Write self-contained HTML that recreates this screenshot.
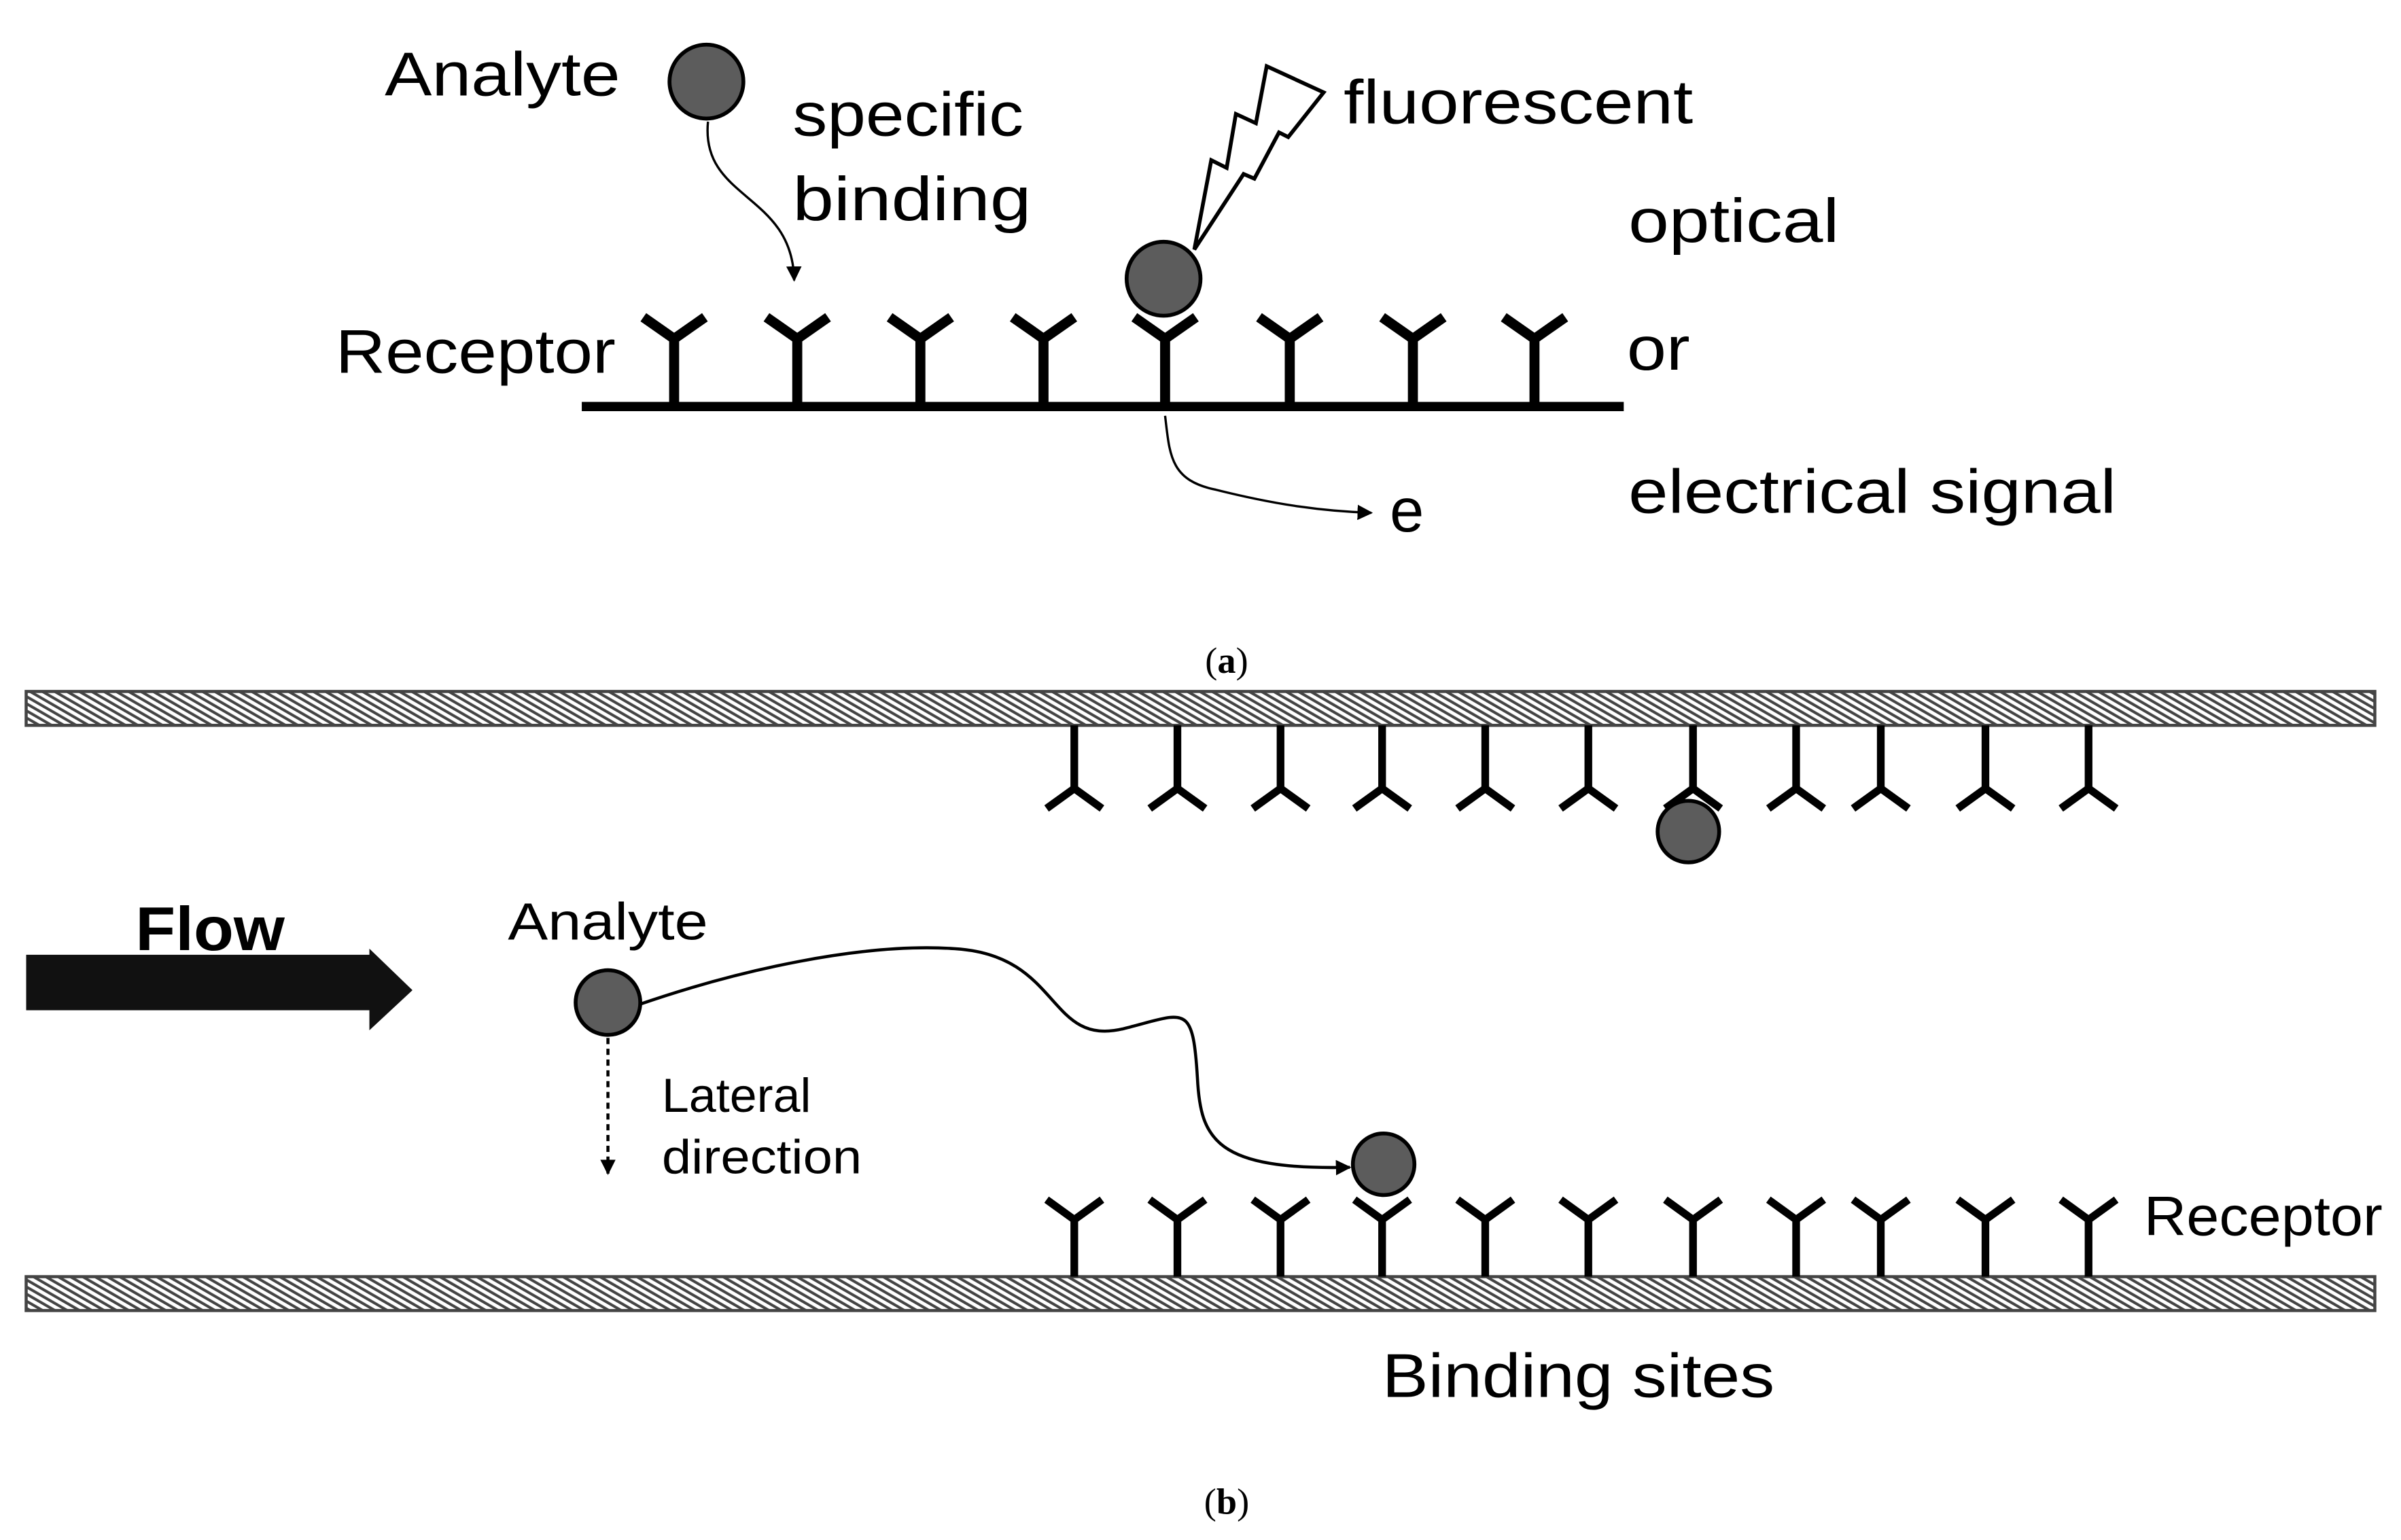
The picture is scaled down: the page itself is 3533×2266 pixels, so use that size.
<!DOCTYPE html>
<html><head><style>html,body{margin:0;padding:0;background:#fff;}svg{display:block}</style></head>
<body>
<svg width="3533" height="2266" viewBox="0 0 1560 1000" preserveAspectRatio="none" xmlns="http://www.w3.org/2000/svg" font-family="'Liberation Sans', sans-serif">
<defs>
<pattern id="h" width="4" height="4" patternUnits="userSpaceOnUse" patternTransform="rotate(-60)">
<rect width="4" height="4" fill="#fff"/><rect width="1.8" height="4" fill="#444"/>
</pattern>
<marker id="ar" markerWidth="10" markerHeight="10" refX="9" refY="5" orient="auto" markerUnits="userSpaceOnUse"><path d="M0,0 L10,5 L0,10 Z" fill="#000"/></marker>
</defs>
<rect width="1560" height="1000" fill="#fff"/>
<!-- panel a -->
<g fill="#000" font-size="40" lengthAdjust="spacingAndGlyphs">
<text x="250" y="62" textLength="153" lengthAdjust="spacingAndGlyphs">Analyte</text>
<text x="515" y="88" textLength="150" lengthAdjust="spacingAndGlyphs">specific</text>
<text x="515" y="143" textLength="155" lengthAdjust="spacingAndGlyphs">binding</text>
<text x="873" y="80" textLength="227" lengthAdjust="spacingAndGlyphs">fluorescent</text>
<text x="1058" y="157" textLength="137" lengthAdjust="spacingAndGlyphs">optical</text>
<text x="218" y="242" textLength="182" lengthAdjust="spacingAndGlyphs">Receptor</text>
<text x="1057" y="240" textLength="41" lengthAdjust="spacingAndGlyphs">or</text>
<text x="1058" y="333" textLength="317" lengthAdjust="spacingAndGlyphs">electrical signal</text>
<text x="903" y="345">e</text>
</g>
<line x1="378" y1="264" x2="1055" y2="264" stroke="#000" stroke-width="6"/>
<g stroke="#000" stroke-width="6.5" fill="none">
<path d="M438,264V220M418,206L438,220L458,206"/>
<path d="M518,264V220M498,206L518,220L538,206"/>
<path d="M598,264V220M578,206L598,220L618,206"/>
<path d="M678,264V220M658,206L678,220L698,206"/>
<path d="M757,264V220M737,206L757,220L777,206"/>
<path d="M838,264V220M818,206L838,220L858,206"/>
<path d="M918,264V220M898,206L918,220L938,206"/>
<path d="M997,264V220M977,206L997,220L1017,206"/>
</g>
<circle cx="459" cy="53" r="24" fill="#5c5c5c" stroke="#000" stroke-width="2.5"/>
<path d="M460,79 C455,130 515,125 516,182" stroke="#000" stroke-width="1.5" fill="none" marker-end="url(#ar)"/>
<circle cx="756" cy="181" r="24" fill="#5c5c5c" stroke="#000" stroke-width="2.5"/>
<polygon points="776,162 787,104 797,109 803,74 816,80 823,43 860,60 837,89 831,86 815,116 808,113" fill="#fff" stroke="#000" stroke-width="2.5"/>
<path d="M757,270 C760,295 760,312 790,318 C830,328 860,332 891,333" stroke="#000" stroke-width="1.5" fill="none" marker-end="url(#ar)"/>
<text x="797" y="437" font-family="'Liberation Serif', serif" font-size="24" text-anchor="middle">(<tspan font-weight="bold">a</tspan>)</text>
<!-- panel b -->
<rect x="17" y="449" width="1526" height="22" fill="url(#h)" stroke="#444" stroke-width="2"/>
<rect x="17" y="829" width="1526" height="22" fill="url(#h)" stroke="#444" stroke-width="2"/>
<g stroke="#000" stroke-width="5" fill="none">
<path d="M698,471V512M680,525L698,512L716,525"/>
<path d="M765,471V512M747,525L765,512L783,525"/>
<path d="M832,471V512M814,525L832,512L850,525"/>
<path d="M898,471V512M880,525L898,512L916,525"/>
<path d="M965,471V512M947,525L965,512L983,525"/>
<path d="M1032,471V512M1014,525L1032,512L1050,525"/>
<path d="M1100,471V512M1082,525L1100,512L1118,525"/>
<path d="M1167,471V512M1149,525L1167,512L1185,525"/>
<path d="M1222,471V512M1204,525L1222,512L1240,525"/>
<path d="M1290,471V512M1272,525L1290,512L1308,525"/>
<path d="M1357,471V512M1339,525L1357,512L1375,525"/>
<path d="M698,829V792M680,779L698,792L716,779"/>
<path d="M765,829V792M747,779L765,792L783,779"/>
<path d="M832,829V792M814,779L832,792L850,779"/>
<path d="M898,829V792M880,779L898,792L916,779"/>
<path d="M965,829V792M947,779L965,792L983,779"/>
<path d="M1032,829V792M1014,779L1032,792L1050,779"/>
<path d="M1100,829V792M1082,779L1100,792L1118,779"/>
<path d="M1167,829V792M1149,779L1167,792L1185,779"/>
<path d="M1222,829V792M1204,779L1222,792L1240,779"/>
<path d="M1290,829V792M1272,779L1290,792L1308,779"/>
<path d="M1357,829V792M1339,779L1357,792L1375,779"/>
</g>
<circle cx="1097" cy="540" r="20" fill="#5c5c5c" stroke="#000" stroke-width="2.5"/>
<circle cx="899" cy="756" r="20" fill="#5c5c5c" stroke="#000" stroke-width="2.5"/>
<polygon points="17,620 240,620 240,616 268,643 240,669 240,656 17,656" fill="#111"/>
<text x="88" y="617" font-size="40" font-weight="bold" textLength="97" lengthAdjust="spacingAndGlyphs">Flow</text>
<text x="330" y="610" font-size="34" textLength="130" lengthAdjust="spacingAndGlyphs">Analyte</text>
<circle cx="395" cy="651" r="21" fill="#5c5c5c" stroke="#000" stroke-width="2.5"/>
<path d="M416,652 C480,630 560,612 620,616 C690,620 680,680 730,668 C770,658 775,650 778,700 C780,740 790,760 877,758" stroke="#000" stroke-width="2" fill="none" marker-end="url(#ar)"/>
<line x1="395" y1="674" x2="395" y2="762" stroke="#000" stroke-width="2" stroke-dasharray="4,3" marker-end="url(#ar)"/>
<text x="430" y="722" font-size="31" textLength="97" lengthAdjust="spacingAndGlyphs">Lateral</text>
<text x="430" y="762" font-size="31" textLength="130" lengthAdjust="spacingAndGlyphs">direction</text>
<text x="1393" y="802" font-size="36" textLength="155" lengthAdjust="spacingAndGlyphs">Receptor</text>
<text x="898" y="907" font-size="40" textLength="255" lengthAdjust="spacingAndGlyphs">Binding sites</text>
<text x="797" y="983" font-family="'Liberation Serif', serif" font-size="24" text-anchor="middle">(<tspan font-weight="bold">b</tspan>)</text>
</svg>
</body></html>
